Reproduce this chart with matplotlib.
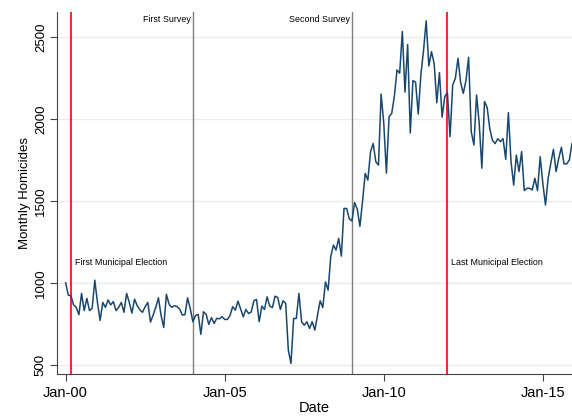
import numpy as np
import matplotlib.pyplot as plt

plt.rcParams['font.family'] = ['Liberation Sans', 'DejaVu Sans']

# monthly homicides, Jan 2000 - Dec 2015
homicides = [
    1000, 925, 920, 865, 850, 805, 935, 830, 905, 830, 845, 1016,
    880, 770, 880, 850, 895, 865, 885, 830, 850, 880, 820, 935,
    880, 815, 900, 860, 835, 820, 855, 880, 760, 803, 850, 908,
    800, 727, 929, 870, 850, 860, 855, 840, 803, 805, 908, 843,
    762, 800, 807, 685, 823, 807, 746, 787, 752, 783, 780, 793,
    776, 776, 800, 854, 833, 888, 840, 792, 837, 812, 822, 890,
    898, 762, 857, 837, 914, 857, 849, 918, 910, 837, 890, 874,
    589, 507, 782, 782, 935, 762, 741, 762, 721, 762, 711, 802,
    890, 849, 1005, 955, 1160, 1230, 1200, 1271, 1163, 1454, 1454, 1390,
    1378, 1490, 1450, 1345, 1500, 1668, 1627, 1800, 1851, 1739, 1719, 2153,
    1974, 1670, 2014, 2035, 2140, 2300, 2280, 2535, 2165, 2455, 1915, 2235,
    2225, 2031, 2270, 2420, 2600, 2324, 2412, 2340, 2100, 2284, 2011, 2137,
    2162, 1893, 2208, 2249, 2371, 2222, 2157, 2235, 2377, 1923, 1842, 2147,
    1974, 1700, 2107, 2070, 1940, 1870, 1850, 1880, 1862, 1880, 1754, 2039,
    1740, 1597, 1780, 1679, 1801, 1563, 1577, 1577, 1567, 1638, 1563, 1770,
    1607, 1475, 1638, 1730, 1815, 1679, 1760, 1827, 1726, 1726, 1750, 1852,
]
months = np.arange(len(homicides))

tick_months = [0, 60, 120, 180]
tick_labels = ['Jan-00', 'Jan-05', 'Jan-10', 'Jan-15']
y_ticks = [500, 1000, 1500, 2000, 2500]

# events: month index, label, colour
event_months = [2, 48, 108, 144]
event_labels = ['First Municipal Election', 'First Survey', 'Second Survey', 'Last Municipal Election']
event_colors = ['red', '#7f7f7f', '#7f7f7f', 'red']

fig = plt.figure(figsize=(5.72, 4.16), dpi=100)
ax = fig.add_axes([0.099, 0.101, 0.901, 0.871])

for yt in y_ticks:
    ax.axhline(yt, color='#e6eef0', lw=1.0, zorder=0)

for m, c in zip(event_months, event_colors):
    ax.axvline(m, color=c, lw=1.2 if c == 'red' else 1.0, zorder=1)

ax.plot(months, homicides, color='#1a476f', lw=1.1, zorder=2)

# event labels
ax.text(event_months[0] + 1.5, 1126, event_labels[0], fontsize=6.4, va='center', ha='left')
ax.text(event_months[1] - 0.6, 2605, event_labels[1], fontsize=6.4, va='center', ha='right')
ax.text(event_months[2] - 0.6, 2605, event_labels[2], fontsize=6.4, va='center', ha='right')
ax.text(event_months[3] + 1.5, 1126, event_labels[3], fontsize=6.4, va='center', ha='left')

ax.set_xlim(-3.4, 191)
ax.set_ylim(443, 2656)
ax.set_xticks(tick_months)
ax.set_xticklabels(tick_labels, fontsize=10.5)
ax.set_yticks(y_ticks)
ax.set_yticklabels([str(v) for v in y_ticks], fontsize=9.5, rotation=90, va='center')
ax.tick_params(direction='out', length=5, width=0.8, color='#444444')
ax.tick_params(axis='y', pad=2)
ax.set_xlabel('Date', fontsize=10.5, labelpad=1)
ax.set_ylabel('Monthly Homicides', fontsize=9.5, labelpad=3)

for side in ['top', 'right']:
    ax.spines[side].set_visible(False)
for side in ['left', 'bottom']:
    ax.spines[side].set_color('#444444')
    ax.spines[side].set_linewidth(0.8)

fig.savefig('out.png', dpi=100)
